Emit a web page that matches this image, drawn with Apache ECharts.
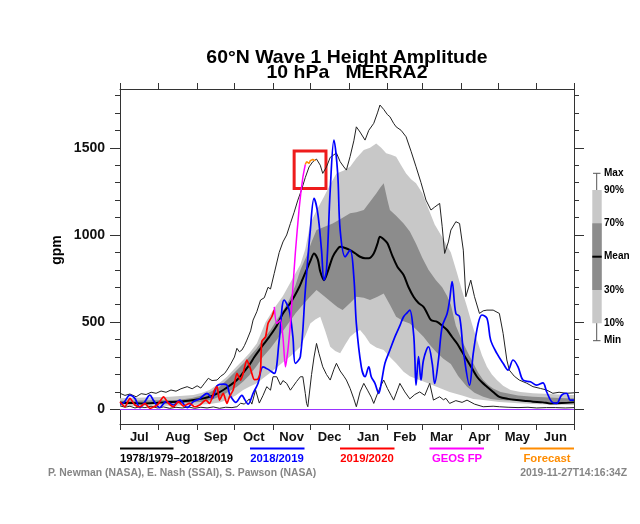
<!DOCTYPE html>
<html><head><meta charset="utf-8">
<script src="https://cdn.jsdelivr.net/npm/echarts@6/dist/echarts.min.js"></script>
<style>html,body{margin:0;padding:0;background:#fff}#c{width:640px;height:524px}</style>
</head><body><div id="c"></div>
<script>
// ---------- data (day index from Jul 1, value in gpm) ----------
const monthNames = ['Jul','Aug','Sep','Oct','Nov','Dec','Jan','Feb','Mar','Apr','May','Jun'];
const monthStarts = [0,31,62,92,123,153,184,215,243,274,304,335,365];
const yMinorTicks = [0,100,200,300,400,500,600,700,800,900,1000,1100,1200,1300,1400,1500,1600,1700,1800];
const yMajorTicks = [0,500,1000,1500];

const climMax = [[0,92],[4,80],[8,88],[13,72],[17,90],[21,85],[25,98],[29,92],[33,105],[37,98],[41,111],[45,104],[49,118],[54,130],[58,118],[62,135],[65,122],[68,150],[71,178],[74,165],[78,168],[81,190],[84,205],[86,225],[89,260],[92,300],[94,350],[96,330],[98,340],[100,365],[102,397],[105,450],[107,512],[110,560],[113,627],[116,640],[119,700],[121,690],[124,780],[128,900],[131,960],[134,1000],[137,1066],[140,1130],[143,1200],[146,1260],[149,1330],[152,1390],[155,1420],[158,1435],[161,1400],[163,1353],[166,1390],[169,1445],[172,1460],[174,1470],[177,1420],[180,1390],[182,1372],[185,1450],[188,1540],[190,1620],[193,1590],[197,1544],[200,1600],[204,1640],[207,1700],[209,1745],[212,1720],[215,1690],[217,1678],[220,1640],[222,1620],[226,1600],[230,1563],[234,1480],[238,1391],[242,1300],[246,1200],[250,1143],[253,1160],[257,1181],[259,1050],[261,894],[264,960],[266,1028],[270,1076],[273,1066],[276,913],[278,646],[282,741],[285,646],[289,550],[292,565],[295,569],[300,569],[305,550],[308,436],[311,283],[313,225],[317,190],[321,168],[327,150],[332,130],[338,120],[343,111],[348,92],[353,98],[359,92],[365,95]];
const clim90 = [[0,63],[20,68],[40,72],[59,82],[66,95],[72,111],[79,145],[86,187],[93,240],[99,283],[104,321],[110,378],[117,500],[124,580],[131,650],[138,740],[145,830],[149,920],[153,1066],[158,1140],[164,1219],[169,1290],[174,1353],[180,1370],[185,1391],[190,1440],[196,1487],[201,1500],[206,1525],[210,1500],[214,1468],[218,1460],[222,1448],[226,1400],[230,1353],[234,1320],[238,1296],[243,1240],[248,1150],[253,1060],[258,1000],[262,950],[266,900],[271,780],[275,680],[279,588],[283,490],[287,397],[291,310],[295,244],[299,200],[303,168],[308,135],[314,111],[322,100],[332,92],[345,88],[359,82],[365,82]];
const clim70 = [[0,50],[30,52],[46,53],[58,65],[67,82],[74,105],[80,130],[87,175],[94,225],[99,262],[104,302],[110,350],[115,400],[121,455],[126,512],[131,565],[136,627],[141,710],[145,799],[150,880],[154,960],[158,1028],[164,1045],[171,1066],[178,1095],[185,1124],[190,1130],[196,1143],[201,1190],[206,1238],[209,1270],[212,1296],[215,1200],[217,1143],[222,1110],[228,1066],[233,1020],[238,950],[243,870],[248,800],[254,740],[259,700],[263,650],[266,600],[270,480],[276,378],[280,320],[284,264],[288,210],[292,168],[296,140],[300,120],[306,100],[311,92],[320,80],[332,72],[345,68],[359,63],[365,63]];
const clim30 = [[0,30],[30,32],[46,34],[58,40],[67,44],[74,56],[80,72],[87,100],[94,130],[99,160],[104,195],[110,250],[115,302],[121,350],[126,397],[131,450],[136,500],[141,550],[147,600],[152,640],[158,684],[164,650],[171,608],[175,585],[179,569],[185,610],[190,646],[196,640],[201,627],[207,645],[212,665],[217,600],[222,531],[228,505],[233,493],[238,460],[244,416],[249,370],[254,330],[260,290],[266,260],[272,190],[279,130],[285,95],[292,72],[298,60],[305,53],[320,48],[332,44],[345,41],[359,38],[365,38]];
const clim10 = [[0,19],[30,20],[46,21],[60,25],[72,30],[80,40],[86,53],[93,80],[99,111],[104,130],[110,149],[115,178],[120,206],[126,240],[131,270],[138,310],[145,359],[149,420],[153,493],[157,515],[161,531],[165,450],[169,359],[173,335],[177,321],[181,370],[185,416],[189,440],[193,455],[197,420],[201,378],[206,355],[212,340],[217,300],[222,264],[228,215],[233,190],[238,175],[244,160],[251,140],[258,120],[265,100],[275,80],[284,60],[292,53],[305,42],[320,35],[332,30],[350,27],[365,25]];
const climMean = [[0,38],[10,36],[19,34],[30,38],[40,42],[46,44],[55,50],[62,57],[67,63],[72,72],[78,90],[83,111],[88,135],[94,168],[99,210],[104,255],[108,300],[112,340],[116,378],[120,416],[126,480],[131,550],[136,600],[140,646],[144,700],[147,750],[150,800],[153,850],[156,894],[159,860],[161,790],[164,741],[167,790],[171,875],[174,910],[177,932],[181,925],[185,913],[189,895],[193,875],[197,866],[200,866],[204,894],[207,950],[209,990],[212,975],[215,952],[219,880],[223,818],[228,770],[232,700],[236,646],[240,610],[244,588],[247,550],[250,512],[255,502],[259,480],[263,455],[267,415],[271,378],[275,330],[279,283],[283,235],[287,187],[291,155],[295,130],[300,100],[305,72],[312,60],[319,53],[326,48],[332,44],[340,40],[346,34],[355,36],[365,40]];
const climMin = [[0,20],[4,12],[8,18],[12,8],[16,15],[20,10],[25,18],[30,8],[35,14],[40,6],[45,12],[50,8],[55,14],[60,6],[65,12],[70,8],[75,14],[80,6],[85,12],[90,10],[94,15],[97,35],[100,30],[104,60],[106,30],[109,111],[112,36],[115,80],[118,130],[121,110],[123,187],[126,187],[129,140],[131,165],[134,149],[137,110],[139,130],[142,160],[145,187],[147,187],[149,90],[150,34],[151,15],[154,200],[156,300],[158,378],[160,320],[163,244],[166,200],[169,168],[172,230],[174,264],[177,220],[180,190],[182,168],[185,120],[188,60],[190,15],[193,100],[196,149],[199,110],[202,70],[204,34],[207,90],[210,140],[212,168],[215,120],[218,80],[220,53],[223,110],[225,149],[229,100],[233,60],[237,85],[241,100],[245,80],[249,149],[252,53],[255,65],[257,72],[260,55],[262,63],[265,34],[270,50],[275,40],[279,53],[285,30],[292,15],[300,18],[305,15],[312,12],[320,10],[328,12],[335,8],[343,10],[350,10],[358,8],[365,10]];
const season2018 = [[0,30],[3,38],[8,82],[12,63],[16,10],[20,44],[24,82],[27,50],[32,10],[37,44],[43,25],[48,53],[54,10],[59,44],[64,60],[70,92],[74,63],[78,135],[83,145],[86,139],[88,90],[90,63],[93,40],[98,80],[100,60],[103,30],[107,92],[111,150],[115,244],[120,225],[124,206],[128,397],[132,627],[136,569],[139,416],[141,264],[145,302],[149,684],[153,1028],[156,1210],[159,1124],[162,913],[164,741],[166,799],[169,1257],[172,1544],[175,1353],[177,1028],[181,875],[185,913],[188,760],[190,493],[194,244],[197,187],[200,244],[202,187],[205,149],[208,92],[210,149],[213,264],[217,340],[221,416],[225,480],[228,531],[231,555],[233,569],[236,436],[237,300],[238,139],[240,302],[242,168],[244,283],[248,359],[251,264],[253,149],[256,283],[259,474],[263,550],[265,627],[267,732],[270,550],[273,531],[276,340],[281,139],[284,321],[288,493],[291,541],[295,522],[298,397],[303,321],[308,264],[312,225],[316,283],[320,244],[324,168],[330,158],[335,139],[340,152],[343,101],[347,44],[351,34],[355,82],[359,92],[362,53],[365,53]];
const season2019 = [[0,44],[4,15],[8,63],[12,25],[16,15],[20,34],[24,6],[30,25],[35,72],[39,34],[43,15],[47,44],[51,19],[56,34],[60,15],[64,25],[69,53],[72,34],[76,111],[78,130],[80,53],[83,92],[86,34],[88,72],[91,111],[94,206],[97,168],[99,206],[102,283],[105,230],[108,170],[111,175],[113,230],[114,390],[117,416],[119,493],[122,531],[124,570]];
const geosFP = [[124,588],[126,493],[129,512],[131,416],[133,244],[135,340],[137,493],[139,700],[141,900],[144,1150],[147,1330],[149,1405]];
const forecast = [[149,1405],[150,1420],[152,1410],[153,1426],[155,1433],[156,1443],[157,1426]];
const highlightBox = {dayFrom:140, dayTo:165.6, valueFrom:1267, valueTo:1481};

// ---------- styles ----------
const FONT = "'Liberation Sans', Arial, Helvetica, sans-serif";
const AX = '#333';
const LIGHT = '#c8c8c8', DARK = '#8c8c8c';
const monthMids = monthNames.map((m,i)=> (monthStarts[i]+monthStarts[i+1])/2);
const Y_MIN = -84, Y_MAX = 1837;
const gridRect = {left:120, right:66, top:89, bottom:100};

function band(data, color){
  return {type:'line', data, xAxisIndex:0, yAxisIndex:0, symbol:'none', silent:true,
    lineStyle:{width:0, opacity:0}, areaStyle:{color, opacity:1, origin:'auto'}, z:1};
}
function line(data, color, width, z, smooth){
  return {type:'line', data, xAxisIndex:0, yAxisIndex:0, symbol:'none', silent:true,
    smooth: smooth||false, lineStyle:{color, width}, z};
}

const series = [
  band(clim90, LIGHT), band(clim70, DARK), band(clim30, LIGHT), band(clim10, '#ffffff'),
  line(climMin, '#222', 1, 3), line(climMax, '#222', 1, 3),
  line(climMean, '#000', 2, 4, 0.3),
  line(season2018, '#0000ff', 1.7, 5, 0.35),
  line(season2019, '#ff0000', 1.7, 6, 0.2),
  line(geosFP, '#ff00ff', 1.5, 7, 0.2),
  Object.assign(line(forecast, '#ff8c00', 1.5, 8), {
    markArea:{silent:true, itemStyle:{color:'rgba(0,0,0,0)', borderColor:'#ee1c1c', borderWidth:3},
      data:[[{coord:[highlightBox.dayFrom, highlightBox.valueTo]},{coord:[highlightBox.dayTo, highlightBox.valueFrom]}]]},
    markLine:{silent:true, symbol:'none', label:{show:false}, lineStyle:{color:'#9933ff', width:1.2, type:'solid'},
      data:[{yAxis:0}]}
  })
];

function xAx(grid, pos, labels){
  return {type:'value', gridIndex:grid, position:pos, min:0, max:365, show:true,
    axisLine:{show:true, onZero:false, lineStyle:{color:AX, width:1}},
    axisTick:{show:true, inside:false, length:6, customValues:monthStarts, lineStyle:{color:AX}},
    axisLabel:{show:labels, customValues:monthMids, margin:7,
      formatter:(v)=> monthNames[monthMids.indexOf(v)] || '',
      fontFamily:FONT, fontWeight:'bold', fontSize:13, color:'#111'},
    splitLine:{show:false}};
}
function yAx(grid, pos, ticks, len, labels, showLine){
  return {type:'value', gridIndex:grid, position:pos, min:Y_MIN, max:Y_MAX,
    axisLine:{show:showLine, onZero:false, lineStyle:{color:AX, width:1}},
    axisTick:{show:true, inside:false, length:len, customValues:ticks, lineStyle:{color:AX}},
    axisLabel:{show:labels, customValues:yMajorTicks, margin:15, formatter:(v)=>String(v),
      fontFamily:FONT, fontWeight:'bold', fontSize:14, color:'#111'},
    splitLine:{show:false}};
}

const g = [];
function txt(text, x, y, size, color, align, extra){
  g.push(Object.assign({type:'text', x, y, silent:true, z:100, style:{text, fill:color,
    font:'bold '+size+'px '+FONT, textAlign:align||'left', textVerticalAlign:'middle', verticalAlign:'middle'}}, extra||{}));
}
function seg(x1,y1,x2,y2,color,w){
  g.push({type:'line', silent:true, z:100, shape:{x1,y1,x2,y2}, style:{stroke:color, lineWidth:w}});
}
// title
txt('60°N Wave 1 Height Amplitude', 347, 57.5, 18.6, '#000', 'center', {scaleX:1.045});
txt('10 hPa   MERRA2', 347, 72.5, 18.6, '#000', 'center', {scaleX:1.045});
// y name
txt('gpm', 57, 250, 14, '#000', 'center', {rotation: Math.PI/2});
// bottom legend
seg(120, 448.5, 173.5, 448.5, '#000', 2); txt('1978/1979–2018/2019', 120, 459, 11.3, '#000', 'left');
seg(250, 448.5, 304.5, 448.5, '#0000ff', 2); txt('2018/2019', 277, 459, 11.3, '#0000ff', 'center');
seg(340, 448.5, 394.5, 448.5, '#ff0000', 2); txt('2019/2020', 367, 459, 11.3, '#ff0000', 'center');
seg(429.5, 448.5, 484, 448.5, '#ff00ff', 2); txt('GEOS FP', 457, 459, 11.3, '#ff00ff', 'center');
seg(520, 448.5, 574, 448.5, '#ff8c00', 2); txt('Forecast', 547, 459, 11.3, '#ff8c00', 'center');
// credits
txt('P. Newman (NASA), E. Nash (SSAI), S. Pawson (NASA)', 48, 473.5, 10.4, '#858585', 'left');
txt('2019-11-27T14:16:34Z', 627, 473.5, 10.4, '#858585', 'right');
// right box legend
seg(596.7, 173.3, 596.7, 340.7, '#555', 1);
seg(593, 173.3, 600.5, 173.3, '#555', 1);
seg(593, 340.7, 600.5, 340.7, '#555', 1);
g.push({type:'rect', silent:true, z:100, shape:{x:592.3, y:190, width:9.4, height:133.3}, style:{fill:LIGHT}});
g.push({type:'rect', silent:true, z:101, shape:{x:592.3, y:223.3, width:9.4, height:66.7}, style:{fill:DARK}});
g.push({type:'line', silent:true, z:102, shape:{x1:592.3, y1:256.7, x2:601.7, y2:256.7}, style:{stroke:'#000', lineWidth:2}});
[['Max',173.3],['90%',190],['70%',223.3],['Mean',256.7],['30%',290],['10%',323.3],['Min',340.7]].forEach(([t,y])=>txt(t, 604, y, 10, '#000', 'left'));

const chart = echarts.init(document.getElementById('c'), null, {renderer:'canvas'});
chart.setOption({
  animation:false,
  backgroundColor:'#fff',
  grid:[Object.assign({outerBoundsMode:'none', containLabel:false}, gridRect),
        Object.assign({outerBoundsMode:'none', containLabel:false}, gridRect)],
  xAxis:[xAx(0,'bottom',true), xAx(0,'top',false),
         {type:'value', gridIndex:1, min:0, max:365, show:false}],
  yAxis:[yAx(0,'left',yMinorTicks,5,true,true), yAx(0,'right',yMinorTicks,5,false,true),
         yAx(1,'left',yMajorTicks,10,false,false), yAx(1,'right',yMajorTicks,10,false,false)],
  series,
  graphic:g
});
</script>
</body></html>
